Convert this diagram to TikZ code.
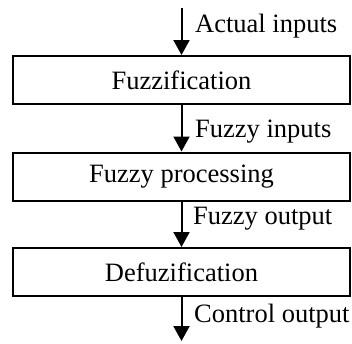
\documentclass[tikz,border=0pt]{standalone}
\usepackage{fontspec}
\setmainfont{Liberation Serif}
\usetikzlibrary{arrows.meta}
\begin{document}
\begin{tikzpicture}[x=1pt,y=-1pt,
  stagebox/.style={draw,line width=2pt,minimum width=337pt,minimum height=48pt,inner sep=0pt,font=\fontsize{26.5}{30}\selectfont},
  lbl/.style={anchor=base west,inner sep=0pt,font=\fontsize{26.5}{30}\selectfont},
  flow/.style={line width=2pt,-{Triangle[width=16pt,length=15pt]}}]
\useasboundingbox (0,0) rectangle (352,343);
\node[stagebox] (f) at (181.5,80) {Fuzzification};
\node[stagebox] (p) at (181.5,176.5) {Fuzzy processing};
\node[stagebox] (d) at (181.5,272) {Defuzification};
\coordinate (in) at (181.5,8);
\coordinate (out) at (181.5,341);
\draw[flow] (in) -- (f.north);
\draw[flow] (f.south) -- (p.north);
\draw[flow] (p.south) -- (d.north);
\draw[flow] (d.south) -- (out);
\node[lbl] (l1) at (195,32) {Actual inputs};
\node[lbl] (l2) at (195,137) {Fuzzy inputs};
\node[lbl] (l3) at (193,224) {Fuzzy output};
\node[lbl] (l4) at (194,322) {Control output};
\end{tikzpicture}
\end{document}
